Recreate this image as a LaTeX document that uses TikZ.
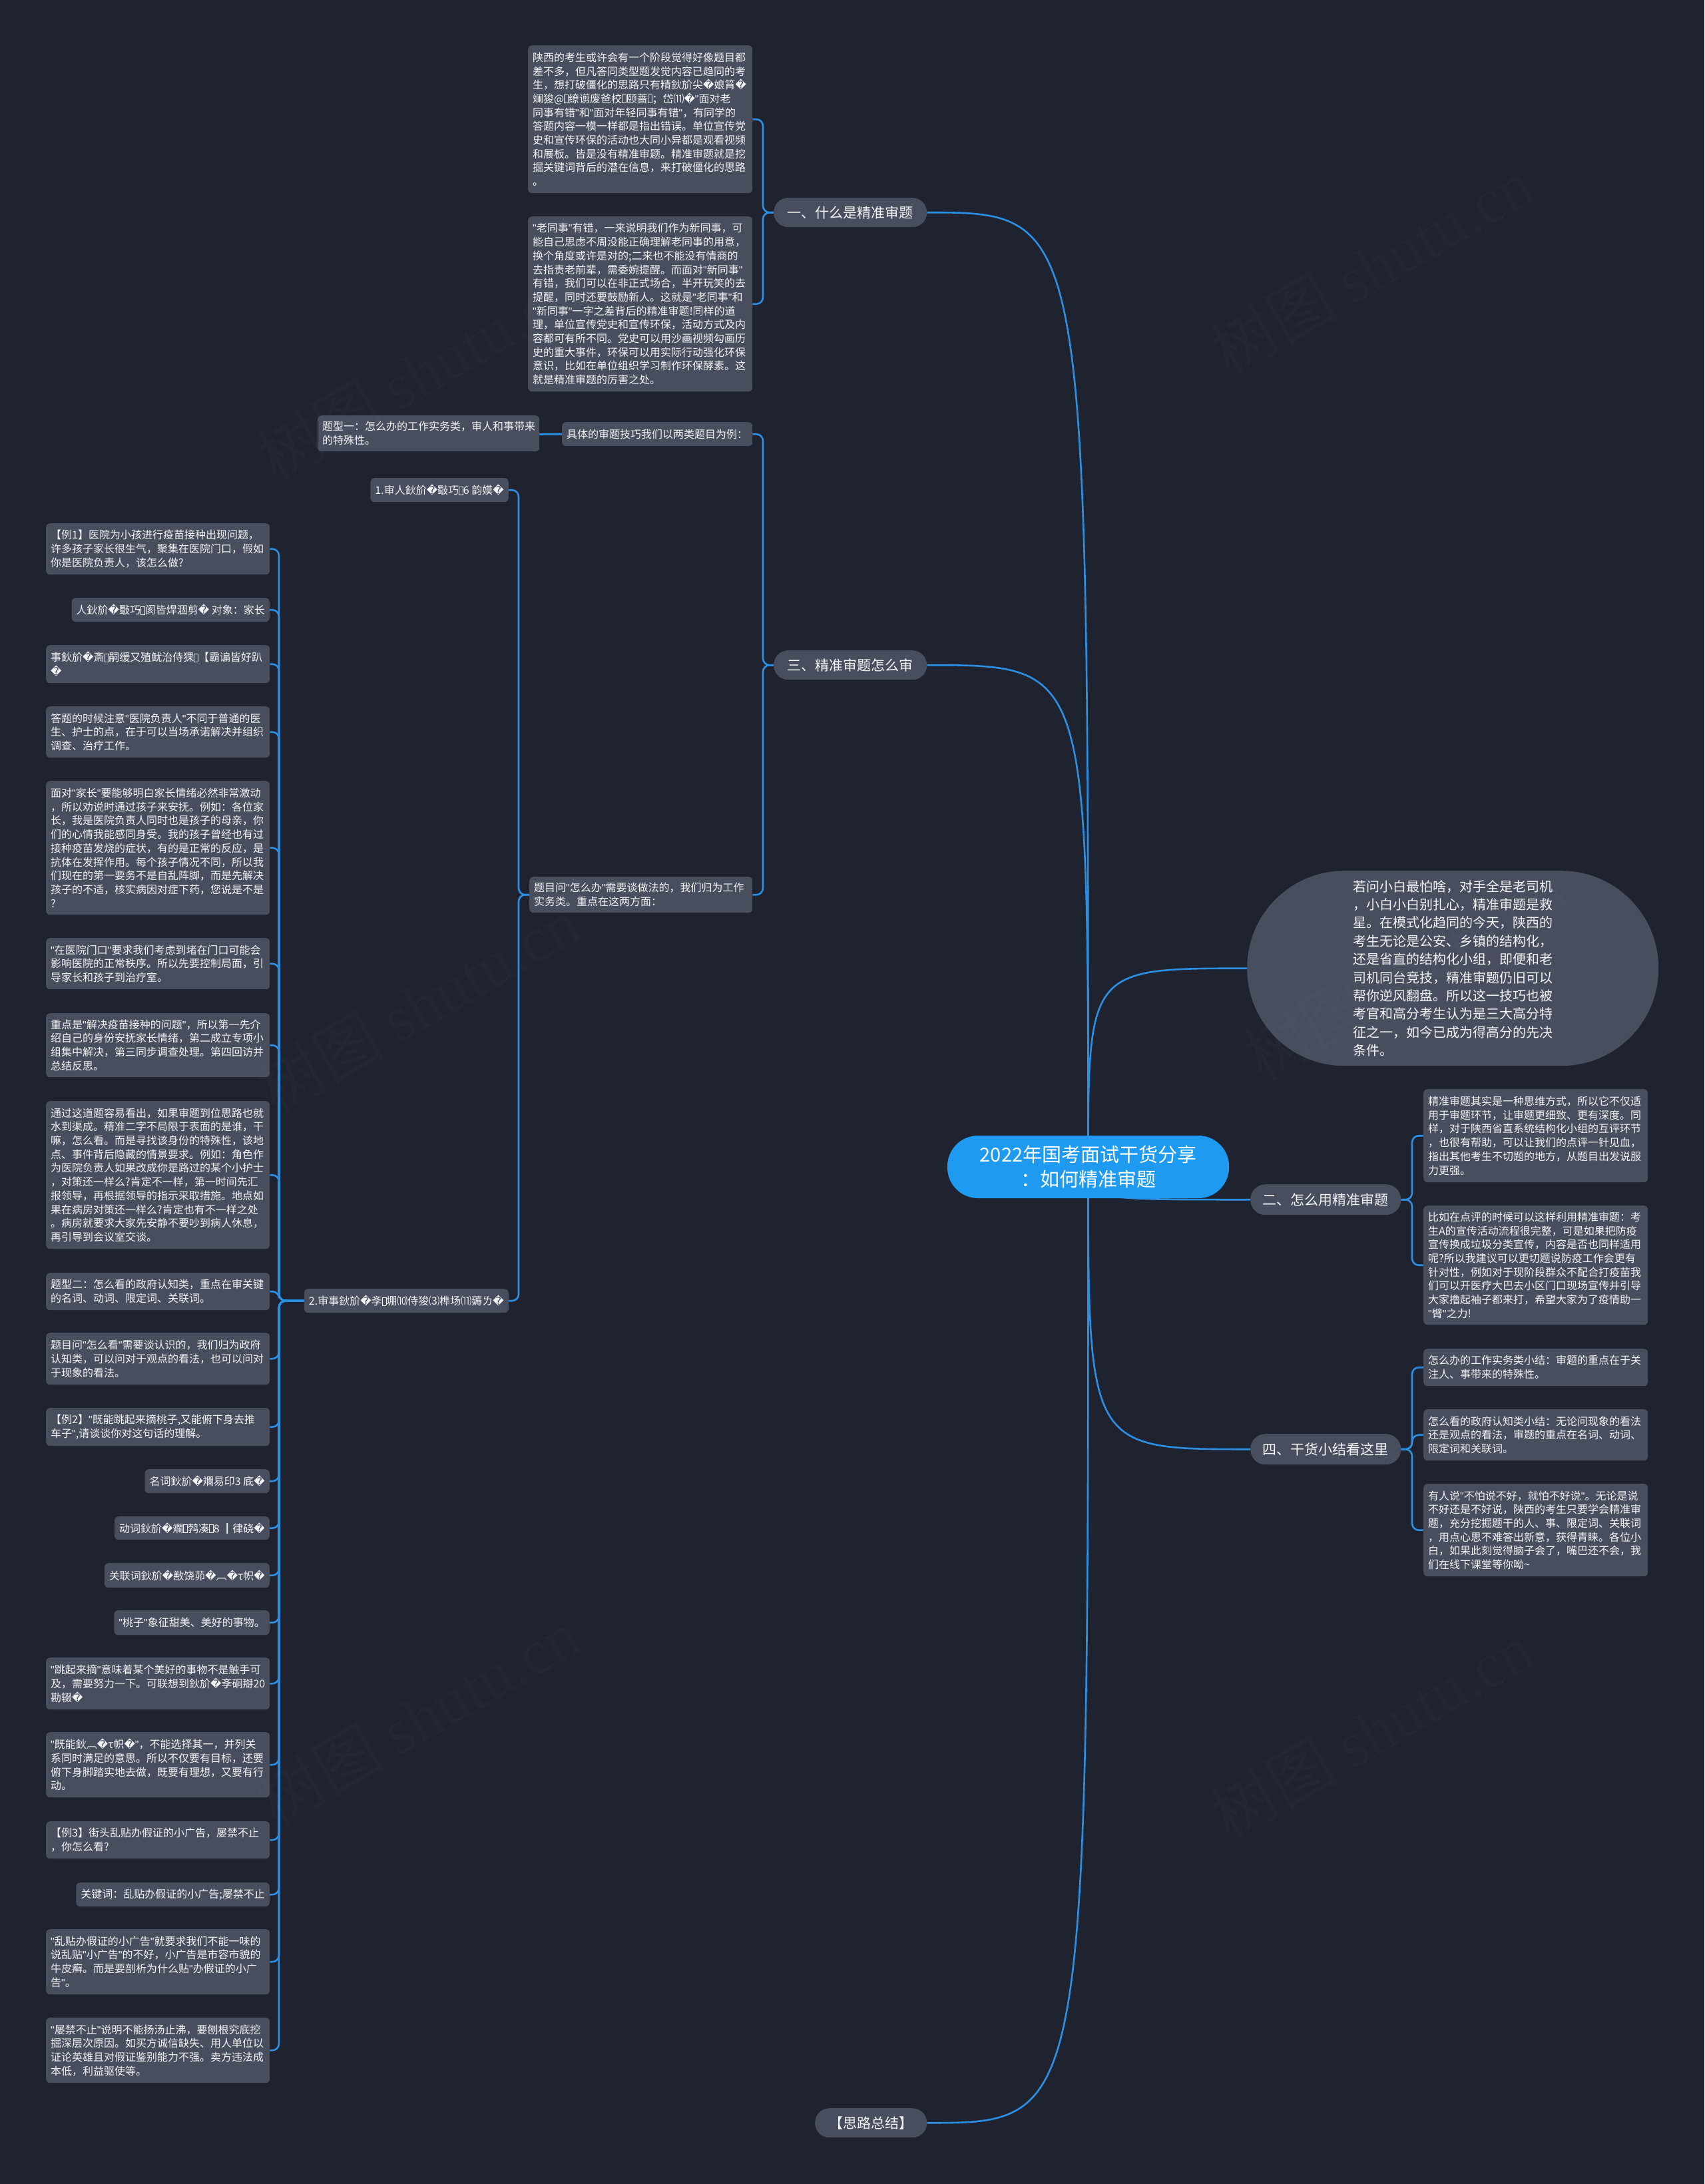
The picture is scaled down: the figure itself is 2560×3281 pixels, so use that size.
\documentclass[tikz,border=0pt]{standalone}
\usepackage{fontspec}
\setmainfont{Noto Sans CJK SC}
\newfontfamily\dejafont{DejaVu Sans}
\newfontfamily\latinfont{Liberation Sans}
\newfontfamily\wmserif{Liberation Serif}
\newcommand\qm{{\dejafont\symbol{"FFFD}}}
\newcommand\dq{{\latinfont\symbol{34}}}
\newcommand\bx{{\setlength\fboxsep{0pt}\setlength\fboxrule{0.8pt}\fbox{\rule{0pt}{0.72em}\hspace{0.32em}}}}
\definecolor{bgc}{HTML}{1F2330}
\definecolor{nodec}{HTML}{484E5E}
\definecolor{linec}{HTML}{2B8FE3}
\definecolor{rootc}{HTML}{1E9BF0}
\definecolor{txtc}{HTML}{F2F3F5}
\definecolor{wmc}{HTML}{8A90A0}
\pgfdeclarelayer{bg}
\pgfsetlayers{bg,main}
\tikzset{
 leaf/.style={fill=nodec, rounded corners=6pt, text=txtc, inner xsep=7pt, inner ysep=0pt, align=left, font=\fontsize{16}{20.7}\selectfont},
 lvl/.style={fill=nodec, text=txtc, inner sep=0pt, font=\fontsize{21}{25}\selectfont},
 conn/.style={draw=linec, line width=2.6pt},
 wm/.style={text=wmc, opacity=0.045, rotate=30, font=\fontsize{96}{100}\selectfont, inner sep=0pt},
}
\newcommand\lfnode[6]{%
\pgfmathsetmacro\lfW{#4-#2}\pgfmathsetmacro\lfH{#5-#3}\pgfmathsetmacro\lfT{#4-#2-14}%
\node[leaf, anchor=north west, minimum width=\lfW pt, minimum height=\lfH pt, text width=\lfT pt] (#1) at (#2,#3) {#6};}
\newcommand\slnode[5]{%
\pgfmathsetmacro\lfH{#4-#3}%
\node[leaf, anchor=north east, minimum height=\lfH pt] (#1) at (#2,#3) {#5};}
\newcommand\lvnode[6]{%
\pgfmathsetmacro\lfW{#4-#2}\pgfmathsetmacro\lfH{#5-#3}\pgfmathsetmacro\lfR{(#5-#3)/2-0.5}%
\node[lvl, anchor=north west, minimum width=\lfW pt, minimum height=\lfH pt, rounded corners=\lfR pt] (#1) at (#2,#3) {#6};}
\newcommand\brL[3]{\draw[conn, rounded corners=10pt] (#1.west) -- (#1.west -| #3) |- (#2.east);}
\newcommand\brR[3]{\draw[conn, rounded corners=10pt] (#1.east) -- (#1.east -| #3) |- (#2.west);}
\begin{document}
\begin{tikzpicture}[x=1pt,y=-1pt]
\begin{pgfonlayer}{bg}
\fill[bgc] (0,0) rectangle (2560,3281);
\end{pgfonlayer}
\useasboundingbox (0,0) rectangle (2560,3281);
\coordinate (busA) at (1146,0);
\coordinate (busB) at (779,0);
\coordinate (busC) at (419,0);
\coordinate (busD) at (2121,0);

% root
\node[fill=rootc, text=white, rounded corners=46pt, minimum width=423pt, minimum height=94pt, align=center, inner sep=0pt, font=\fontsize{29}{37}\selectfont] (root) at (1634.5,1753) {2022年国考面试干货分享\\：如何精准审题};

% level 1
\lvnode{b1}{1162}{297}{1392}{341}{一、什么是精准审题}
\lvnode{b3}{1162}{977}{1392}{1021}{三、精准审题怎么审}
\lvnode{b5}{1224}{3167}{1392}{3211}{【思路总结】}
\lvnode{b2}{1878}{1779}{2104}{1825}{二、怎么用精准审题}
\lvnode{b4}{1878}{2154}{2104}{2200}{四、干货小结看这里}
\node[fill=nodec, text=txtc, rounded corners=146pt, minimum width=618pt, minimum height=293pt, anchor=north west, inner sep=0pt, align=left, text width=300pt, font=\fontsize{20}{27.4}\selectfont] (oval) at (1873,1308) {若问小白最怕啥，对手全是老司机\\，小白小白别扎心，精准审题是救\\星。在模式化趋同的今天，陕西的\\考生无论是公安、乡镇的结构化，\\还是省直的结构化小组，即便和老\\司机同台竞技，精准审题仍旧可以\\帮你逆风翻盘。所以这一技巧也被\\考官和高分考生认为是三大高分特\\征之一，如今已成为得高分的先决\\条件。};

% branch 一 children
\lfnode{a1}{793}{68}{1130}{290}{陕西的考生或许会有一个阶段觉得好像题目都\\差不多，但凡答同类型题发觉内容已趋同的考\\生，想打破僵化的思路只有精鈥斺尖\qm 娘筲\qm\\斓狻@\bx 缭谫废爸校\bx 颐蔷\bx ；岱⑾\qm\dq 面对老\\同事有错\dq 和\dq 面对年轻同事有错\dq ，有同学的\\答题内容一模一样都是指出错误。单位宣传党\\史和宣传环保的活动也大同小异都是观看视频\\和展板。皆是没有精准审题。精准审题就是挖\\掘关键词背后的潜在信息，来打破僵化的思路\\。}
\lfnode{a2}{793}{325}{1130}{588}{\dq 老同事\dq 有错，一来说明我们作为新同事，可\\能自己思虑不周没能正确理解老同事的用意，\\换个角度或许是对的;二来也不能没有情商的\\去指责老前辈，需委婉提醒。而面对\dq 新同事\dq\\有错，我们可以在非正式场合，半开玩笑的去\\提醒，同时还要鼓励新人。这就是\dq 老同事\dq 和\\\dq 新同事\dq 一字之差背后的精准审题!同样的道\\理，单位宣传党史和宣传环保，活动方式及内\\容都可有所不同。党史可以用沙画视频勾画历\\史的重大事件，环保可以用实际行动强化环保\\意识，比如在单位组织学习制作环保酵素。这\\就是精准审题的厉害之处。}

% branch 三
\lfnode{c1}{844}{634}{1130}{670}{具体的审题技巧我们以两类题目为例：}
\lfnode{c1a}{477}{624}{810}{678}{题型一：怎么办的工作实务类，审人和事带来\\的特殊性。}
\lfnode{c2}{795}{1317}{1130}{1371}{题目问\dq 怎么办\dq 需要谈做法的，我们归为工作\\实务类。重点在这两方面：}
\slnode{d1}{764}{718}{754}{1.审人鈥斺\qm 斀巧\bx 6 韵嫫\qm}
\slnode{d2}{764}{1936}{1972}{2.审事鈥斺\qm 斈\bx 堋⑽侍狻⑶榫场⑾薅ㄌ\qm}

% left column
\lfnode{e1}{69}{786}{405}{863}{【例1】医院为小孩进行疫苗接种出现问题，\\许多孩子家长很生气，聚集在医院门口，假如\\你是医院负责人，该怎么做?}
\slnode{e2}{405}{898}{934}{人鈥斺\qm 斀巧\bx 阂皆焊涸剪\qm\ 对象：家长}
\lfnode{e3}{69}{969}{405}{1026}{事鈥斺\qm 斎\bx 嗣缓又殖鱿治侍猓\bx 【霸谝皆好趴\\\qm}
\lfnode{e4}{69}{1061}{405}{1138}{答题的时候注意\dq 医院负责人\dq 不同于普通的医\\生、护士的点，在于可以当场承诺解决并组织\\调查、治疗工作。}
\lfnode{e5}{69}{1173}{405}{1374}{面对\dq 家长\dq 要能够明白家长情绪必然非常激动\\，所以劝说时通过孩子来安抚。例如：各位家\\长，我是医院负责人同时也是孩子的母亲，你\\们的心情我能感同身受。我的孩子曾经也有过\\接种疫苗发烧的症状，有的是正常的反应，是\\抗体在发挥作用。每个孩子情况不同，所以我\\们现在的第一要务不是自乱阵脚，而是先解决\\孩子的不适，核实病因对症下药，您说是不是\\?}
\lfnode{e6}{69}{1409}{405}{1486}{\dq 在医院门口\dq 要求我们考虑到堵在门口可能会\\影响医院的正常秩序。所以先要控制局面，引\\导家长和孩子到治疗室。}
\lfnode{e7}{69}{1522}{405}{1618}{重点是\dq 解决疫苗接种的问题\dq ，所以第一先介\\绍自己的身份安抚家长情绪，第二成立专项小\\组集中解决，第三同步调查处理。第四回访并\\总结反思。}
\lfnode{e8}{69}{1654}{405}{1876}{通过这道题容易看出，如果审题到位思路也就\\水到渠成。精准二字不局限于表面的是谁，干\\嘛，怎么看。而是寻找该身份的特殊性，该地\\点、事件背后隐藏的情景要求。例如：角色作\\为医院负责人如果改成你是路过的某个小护士\\，对策还一样么?肯定不一样，第一时间先汇\\报领导，再根据领导的指示采取措施。地点如\\果在病房对策还一样么?肯定也有不一样之处\\。病房就要求大家先安静不要吵到病人休息，\\再引导到会议室交谈。}
\lfnode{e9}{69}{1912}{405}{1968}{题型二：怎么看的政府认知类，重点在审关键\\的名词、动词、限定词、关联词。}
\lfnode{e10}{69}{2002}{405}{2080}{题目问\dq 怎么看\dq 需要谈认识的，我们归为政府\\认知类，可以问对于观点的看法，也可以问对\\于现象的看法。}
\lfnode{e11}{69}{2115}{405}{2172}{【例2】\dq 既能跳起来摘桃子,又能俯下身去推\\车子\dq ,请谈谈你对这句话的理解。}
\slnode{e12}{405}{2207}{2243}{名词鈥斺\qm 斕易印3 底\qm}
\slnode{e13}{405}{2278}{2313}{动词鈥斺\qm 斕\bx 鹁凑\bx 8 ┃律硗\qm}
\slnode{e14}{405}{2348}{2385}{关联词鈥斺\qm 敾饶茆\qm ︹\qm τ帜\qm}
\slnode{e15}{405}{2419}{2456}{\dq 桃子\dq 象征甜美、美好的事物。}
\lfnode{e16}{69}{2490}{405}{2568}{\dq 跳起来摘\dq 意味着某个美好的事物不是触手可\\及，需要努力一下。可联想到鈥斺\qm 斈硐搿20\\勘辍\qm}
\lfnode{e17}{69}{2602}{405}{2700}{\dq 既能鈥︹\qm τ帜\qm\dq ，不能选择其一，并列关\\系同时满足的意思。所以不仅要有目标，还要\\俯下身脚踏实地去做，既要有理想，又要有行\\动。}
\lfnode{e18}{69}{2736}{405}{2792}{【例3】街头乱贴办假证的小广告，屡禁不止\\，你怎么看?}
\slnode{e19}{405}{2828}{2864}{关键词：乱贴办假证的小广告;屡禁不止}
\lfnode{e20}{69}{2898}{405}{2996}{\dq 乱贴办假证的小广告\dq 就要求我们不能一味的\\说乱贴\dq 小广告\dq 的不好，小广告是市容市貌的\\牛皮癣。而是要剖析为什么贴\dq 办假证的小广\\告\dq 。}
\lfnode{e21}{69}{3031}{405}{3129}{\dq 屡禁不止\dq 说明不能扬汤止沸，要刨根究底挖\\掘深层次原因。如买方诚信缺失、用人单位以\\证论英雄且对假证鉴别能力不强。卖方违法成\\本低，利益驱使等。}

% right side
\lfnode{r1}{2138}{1636}{2475}{1776}{精准审题其实是一种思维方式，所以它不仅适\\用于审题环节，让审题更细致、更有深度。同\\样，对于陕西省直系统结构化小组的互评环节\\，也很有帮助，可以让我们的点评一针见血，\\指出其他考生不切题的地方，从题目出发说服\\力更强。}
\lfnode{r2}{2138}{1811}{2475}{1990}{比如在点评的时候可以这样利用精准审题：考\\生A的宣传活动流程很完整，可是如果把防疫\\宣传换成垃圾分类宣传，内容是否也同样适用\\呢?所以我建议可以更切题说防疫工作会更有\\针对性，例如对于现阶段群众不配合打疫苗我\\们可以开医疗大巴去小区门口现场宣传并引导\\大家撸起袖子都来打，希望大家为了疫情助一\\\dq 臂\dq 之力!}
\lfnode{r3}{2138}{2026}{2475}{2082}{怎么办的工作实务类小结：审题的重点在于关\\注人、事带来的特殊性。}
\lfnode{r4}{2138}{2117}{2475}{2194}{怎么看的政府认知类小结：无论问现象的看法\\还是观点的看法，审题的重点在名词、动词、\\限定词和关联词。}
\lfnode{r5}{2138}{2229}{2475}{2368}{有人说\dq 不怕说不好，就怕不好说\dq 。无论是说\\不好还是不好说，陕西的考生只要学会精准审\\题，充分挖掘题干的人、事、限定词、关联词\\，用点心思不难答出新意，获得青睐。各位小\\白，如果此刻觉得脑子会了，嘴巴还不会，我\\们在线下课堂等你呦{\char"7E}}

% watermarks
\node[wm] (w1) at (628,560) {树图 {\wmserif shutu.cn}};
\node[wm] (w2) at (2060,400) {树图 {\wmserif shutu.cn}};
\node[wm] (w3) at (628,1510) {树图 {\wmserif shutu.cn}};
\node[wm] (w4) at (2110,1460) {树图 {\wmserif shutu.cn}};
\node[wm] (w5) at (628,2580) {树图 {\wmserif shutu.cn}};
\node[wm] (w6) at (2060,2600) {树图 {\wmserif shutu.cn}};

% connectors
\begin{pgfonlayer}{bg}
\foreach \n in {b1,b3,b5} {\draw[conn] (root.center) .. controls (root.center |- \n.east) .. (\n.east);}
\foreach \n in {b2,b4,oval} {\draw[conn] (root.center) .. controls (root.center |- \n.west) .. (\n.west);}
\brL{b1}{a1}{busA}
\brL{b1}{a2}{busA}
\brL{b3}{c1}{busA}
\brL{b3}{c2}{busA}
\draw[conn] (c1.west) -- (c1a.east |- c1.west);
\brL{c2}{d1}{busB}
\brL{c2}{d2}{busB}
\foreach \n in {e1,e2,e3,e4,e5,e6,e7,e8,e9,e10,e11,e12,e13,e14,e15,e16,e17,e18,e19,e20,e21} {\brL{d2}{\n}{busC}}
\foreach \n in {r1,r2} {\brR{b2}{\n}{busD}}
\foreach \n in {r3,r4,r5} {\brR{b4}{\n}{busD}}
\end{pgfonlayer}
\end{tikzpicture}
\end{document}
